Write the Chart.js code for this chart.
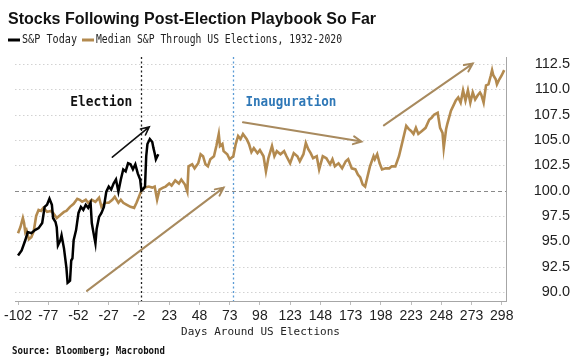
<!DOCTYPE html>
<html>
<head>
<meta charset="utf-8">
<script src="https://cdn.jsdelivr.net/npm/chart.js@4.4.0/dist/chart.umd.min.js"></script>
<style>
  html, body { margin: 0; padding: 0; background: #fff; }
</style>
</head>
<body>
<canvas id="chart" width="570" height="363"></canvas>
<script>
// S&P today, indexed to 100 on election day (day 0)
const todayDays = [
  -102, -99, -96, -94, -91, -88, -85, -82, -80, -78,
  -76, -74, -73, -71, -70, -69, -67, -66, -64, -62,
  -61, -60, -59, -58, -57, -56, -54, -52, -50, -48,
  -46, -44, -42, -41, -40, -38, -37, -35, -33, -31,
  -29, -27, -25, -23, -21, -19, -17, -15, -13, -11,
  -9, -7, -5, -3, -1, 0, 1, 3, 4, 5,
  7, 9, 10, 11, 12, 14
];
const todayValues = [
  93.6, 94.1, 95.1, 95.9, 95.8, 96.1, 96.3, 96.8, 98.4, 98.6,
  99.2, 98.6, 97.3, 96.9, 96.4, 94.6, 95.1, 95.6, 94.3, 92.4,
  90.9, 91.0, 91.1, 93.1, 93.3, 95.1, 96.1, 97.8, 98.4, 98.1,
  98.6, 98.3, 98.8, 96.8, 96.1, 94.8, 96.2, 97.4, 97.8, 98.4,
  99.9, 100.4, 100.1, 100.7, 101.1, 99.9, 101.1, 102.1, 101.9, 102.7,
  102.6, 102.1, 102.6, 101.7, 101.1, 100.0, 100.1, 100.4, 103.4, 104.6,
  105.1, 104.8, 104.2, 103.7, 103.1, 103.6
];

// median S&P path through US elections 1932-2020
const medianDays = [
  -102, -100, -98, -97, -96, -95, -93, -91, -89, -87,
  -85, -83, -81, -78, -75, -73, -70, -67, -64, -62,
  -59, -56, -53, -51, -49, -46, -44, -41, -38, -35,
  -33, -30, -27, -24, -22, -19, -17, -15, -12, -9,
  -6, -4, -2, 0, 3, 6, 9, 11, 13, 15,
  18, 20, 23, 25, 28, 31, 33, 36, 38, 39,
  42, 44, 47, 49, 51, 53, 55, 57, 60, 62,
  64, 65, 67, 68, 71, 73, 76, 78, 80, 82,
  84, 87, 89, 91, 93, 96, 98, 101, 103, 105,
  108, 110, 112, 115, 118, 120, 123, 126, 129, 131,
  134, 136, 138, 140, 142, 145, 147, 150, 153, 156,
  158, 160, 163, 166, 169, 171, 174, 177, 179, 181,
  183, 185, 187, 189, 192, 193, 195, 197, 199, 202,
  205, 207, 210, 213, 215, 217, 219, 221, 223, 225,
  227, 229, 232, 235, 238, 240, 242, 245, 247, 249,
  250, 252, 253, 256, 258, 260, 262, 264, 266, 268,
  270, 272, 274, 276, 278, 280, 281, 283, 285, 287,
  289, 290, 291, 293, 294, 296, 298, 300
];
const medianValues = [
  95.8, 96.4, 97.3, 96.8, 95.9, 96.1, 95.2, 95.4, 96.0, 97.5,
  98.1, 98.0, 98.3, 97.9, 98.0, 97.8, 97.3, 97.6, 97.9, 98.0,
  98.4, 98.7, 99.2, 99.1, 98.9, 99.1, 98.8, 99.1, 98.9, 99.3,
  98.4, 98.8, 98.8, 99.1, 99.4, 98.8, 99.1, 98.8, 98.6, 98.4,
  98.3, 98.8, 99.4, 100.0, 100.3, 100.4, 100.3, 100.4, 99.1, 100.1,
  100.3, 100.4, 100.7, 100.5, 101.0, 100.7, 101.1, 100.6, 99.9, 102.4,
  102.6, 102.2, 102.7, 103.6, 103.4, 102.6, 102.4, 103.1, 103.4, 104.4,
  105.6, 104.4, 104.6, 103.9, 103.6, 103.1, 103.4, 104.6, 105.4, 105.1,
  105.6, 105.1, 104.6, 103.8, 104.2, 103.7, 104.0, 103.4, 101.9, 103.2,
  104.4, 103.4, 103.9, 103.6, 103.9, 103.4, 102.7, 103.7, 103.4, 102.9,
  103.6, 104.7, 104.1, 103.7, 103.2, 103.4, 102.1, 103.4, 103.2, 102.6,
  103.1, 102.4, 102.7, 102.2, 102.9, 103.1, 102.2, 102.1, 101.6, 101.3,
  100.6, 100.4, 101.4, 102.4, 103.4, 103.1, 103.6, 102.7, 102.1, 102.2,
  102.2, 102.4, 102.4, 103.4, 104.4, 105.4, 106.4, 106.1, 105.9, 105.6,
  106.2, 105.6, 105.9, 106.2, 107.0, 107.2, 107.5, 107.7, 106.2, 105.7,
  104.2, 106.1, 106.6, 107.9, 108.4, 108.9, 109.2, 108.7, 109.9, 108.9,
  109.9, 108.7, 109.7, 109.0, 109.4, 109.7, 109.5, 108.7, 110.4, 110.5,
  111.4, 111.9, 111.4, 111.0, 110.5, 111.0, 111.4, 111.9
];

const xTicks = [-102, -77, -52, -27, -2, 23, 48, 73, 98, 123, 148, 173, 198, 223, 248, 273, 298];
const yTicks = [90, 92.5, 95, 97.5, 100, 102.5, 105, 107.5, 110, 112.5];
const electionDay = 0;
const inaugurationDay = 76;

const TAN = '#b38a4f';
const MONO = '"DejaVu Sans Mono", "Liberation Mono", monospace';

function arrow(ctx, x1, y1, x2, y2, color, width) {
  const ang = Math.atan2(y2 - y1, x2 - x1);
  const head = 9;
  ctx.strokeStyle = color;
  ctx.lineWidth = width;
  ctx.setLineDash([]);
  ctx.lineCap = 'round';
  ctx.beginPath();
  ctx.moveTo(x1, y1);
  ctx.lineTo(x2, y2);
  ctx.moveTo(x2 - head * Math.cos(ang - 0.45), y2 - head * Math.sin(ang - 0.45));
  ctx.lineTo(x2, y2);
  ctx.lineTo(x2 - head * Math.cos(ang + 0.45), y2 - head * Math.sin(ang + 0.45));
  ctx.stroke();
}

// gridlines, event lines, arrows and the header/footer text
const notes = {
  id: 'notes',
  beforeDatasetsDraw(chart) {
    const { ctx, chartArea: a, scales: { x, y } } = chart;
    ctx.save();
    ctx.lineWidth = 1;
    yTicks.forEach(v => {
      const py = Math.round(y.getPixelForValue(v)) + 0.5;
      ctx.setLineDash(v === 100 ? [4, 3] : [1.5, 2.5]);
      ctx.strokeStyle = v === 100 ? '#8a8a8a' : '#d2d2d2';
      ctx.beginPath();
      ctx.moveTo(a.left, py);
      ctx.lineTo(a.right, py);
      ctx.stroke();
    });
    [[electionDay, '#222'], [inaugurationDay, '#5b9bd5']].forEach(([d, c]) => {
      const px = Math.round(x.getPixelForValue(d)) + 0.5;
      ctx.setLineDash([2, 2.5]);
      ctx.strokeStyle = c;
      ctx.lineWidth = 1.3;
      ctx.beginPath();
      ctx.moveTo(px, a.top);
      ctx.lineTo(px, a.bottom);
      ctx.stroke();
    });
    ctx.restore();
  },
  afterDatasetsDraw(chart, args, opts) {
    const { ctx, scales: { x, y } } = chart;
    ctx.save();
    opts.arrows.forEach(r => {
      arrow(ctx, x.getPixelForValue(r.from[0]), y.getPixelForValue(r.from[1]),
        x.getPixelForValue(r.to[0]), y.getPixelForValue(r.to[1]), r.color, r.width);
    });
    ctx.textBaseline = 'middle';
    opts.labels.forEach(l => {
      ctx.font = 'bold 13.5px ' + MONO;
      ctx.fillStyle = l.color;
      ctx.textAlign = l.align;
      ctx.fillText(l.text, x.getPixelForValue(l.at[0]), y.getPixelForValue(l.at[1]), l.maxWidth);
    });
    ctx.restore();
  },
  afterDraw(chart) {
    const ctx = chart.ctx;
    ctx.save();
    ctx.fillStyle = '#111';
    ctx.textAlign = 'left';
    ctx.textBaseline = 'alphabetic';
    ctx.font = 'bold 16px "Liberation Sans", Arial, sans-serif';
    ctx.fillText('Stocks Following Post-Election Playbook So Far', 8, 24, 370);

    // legend
    ctx.textBaseline = 'middle';
    ctx.font = '12px ' + MONO;
    const ds = chart.data.datasets;
    const items = [[8, 22, 55], [82, 96, 246]];
    items.forEach(([lx, tx, w], i) => {
      ctx.strokeStyle = ds[i].borderColor;
      ctx.lineWidth = 3;
      ctx.beginPath();
      ctx.moveTo(lx, 40);
      ctx.lineTo(lx + 12, 40);
      ctx.stroke();
      ctx.fillStyle = '#222';
      ctx.fillText(ds[i].label, tx, 40, w);
    });

    ctx.font = 'bold 11px ' + MONO;
    ctx.fillStyle = '#111';
    ctx.fillText('Source: Bloomberg; Macrobond', 12, 351, 153);
    ctx.restore();
  }
};

new Chart(document.getElementById('chart'), {
  type: 'line',
  data: {
    datasets: [
      {
        label: 'S&P Today',
        data: todayDays.map((d, i) => ({ x: d, y: todayValues[i] })),
        borderColor: '#000',
        borderWidth: 2.5,
        pointRadius: 0,
        tension: 0
      },
      {
        label: 'Median S&P Through US Elections, 1932-2020',
        data: medianDays.map((d, i) => ({ x: d, y: medianValues[i] })),
        borderColor: TAN,
        borderWidth: 2.6,
        pointRadius: 0,
        tension: 0
      }
    ]
  },
  options: {
    responsive: false,
    animation: false,
    events: [],
    layout: { padding: { left: 15, top: 57, right: 0, bottom: 20 } },
    plugins: {
      legend: { display: false },
      title: { display: false },
      tooltip: { enabled: false },
      notes: {
        arrows: [
          { from: [-24, 103.3], to: [6.5, 106.3], color: '#111', width: 1.6 },
          { from: [-45, 90.1], to: [68, 100.3], color: '#a88a5e', width: 2 },
          { from: [84, 106.75], to: [182, 104.85], color: '#a88a5e', width: 2 },
          { from: [200.5, 106.45], to: [274, 112.55], color: '#a88a5e', width: 2 }
        ],
        labels: [
          { text: 'Election', at: [-7.5, 108.7], align: 'right', color: '#111', maxWidth: 62 },
          { text: 'Inauguration', at: [86, 108.7], align: 'left', color: '#2f78b7', maxWidth: 91 }
        ]
      }
    },
    scales: {
      x: {
        type: 'linear',
        min: -104.5,
        max: 301.5,
        afterBuildTicks: s => { s.ticks = xTicks.map(v => ({ value: v })); },
        afterFit: s => { s.height = 42; },
        grid: { drawOnChartArea: false, drawTicks: true, tickLength: 4, color: '#bdbdbd' },
        border: { color: '#a6a6a6' },
        ticks: {
          autoSkip: false,
          maxRotation: 0,
          padding: 3,
          color: '#222',
          font: { family: '"Liberation Sans", Arial, sans-serif', size: 14 }
        },
        title: {
          display: true,
          text: 'Days Around US Elections',
          color: '#222',
          font: { family: MONO, size: 11 },
          padding: { top: 0, bottom: 4 }
        }
      },
      y: {
        position: 'right',
        min: 89.1,
        max: 113.2,
        afterBuildTicks: s => { s.ticks = yTicks.map(v => ({ value: v })); },
        afterFit: s => { s.width = 64; },
        grid: { display: false },
        border: { color: '#a6a6a6' },
        ticks: {
          crossAlign: 'far',
          padding: 5,
          color: '#222',
          font: { family: '"Liberation Sans", Arial, sans-serif', size: 14.5 },
          callback: v => v.toFixed(1)
        }
      }
    }
  },
  plugins: [notes]
});
</script>
</body>
</html>
